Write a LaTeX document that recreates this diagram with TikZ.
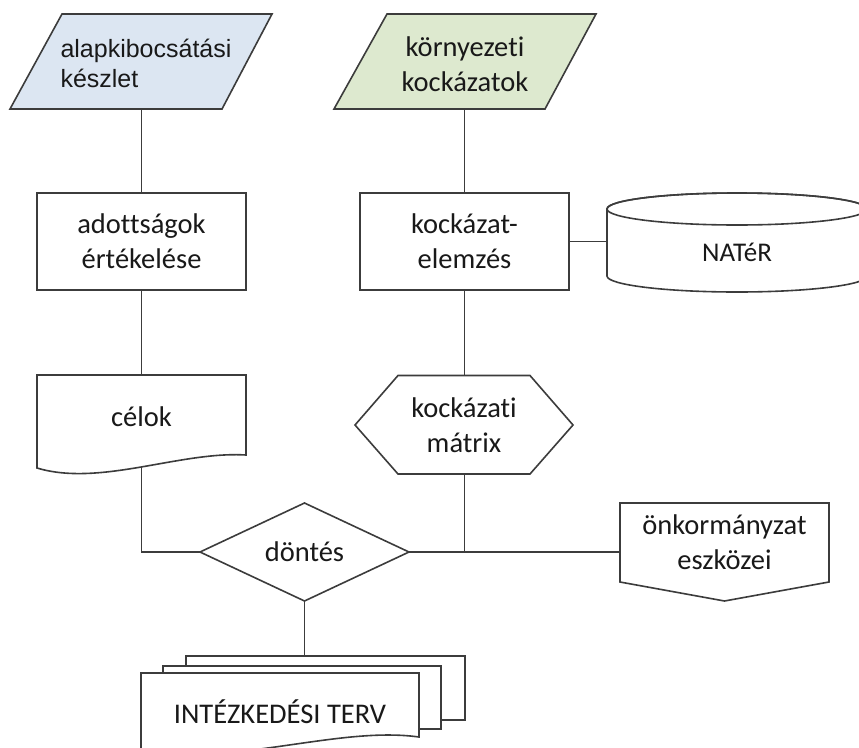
\documentclass[tikz,border=0pt]{standalone}
\usepackage{fontspec}
\setmainfont{Carlito}[Ligatures=NoCommon]
\newfontfamily\arialfont{Liberation Sans}
\usetikzlibrary{backgrounds}
\definecolor{edge}{HTML}{3C3C3C}
\definecolor{inblue}{HTML}{DCE6F2}
\definecolor{ingreen}{HTML}{DDE9CF}
\begin{document}
\begin{tikzpicture}[x=1pt,y=-1pt,
  lbl/.style={inner sep=0pt, align=center, text=black!90,
    font=\fontsize{28.5}{35}\selectfont},
  outline/.style={draw=edge, line width=1.6pt, fill=white, line join=miter},
  wire/.style={draw=edge, line width=1.6pt}]
\useasboundingbox (0,0) rectangle (859,747);

% labels (node names used by the connectors)
\node[lbl, align=left, font=\arialfont\fontsize{25}{30}\selectfont] (src) at (146,63) {alapkibocsátási\\készlet};
\node[lbl] (risk) at (465,64) {környezeti\\kockázatok};
\node[lbl] (assess) at (141.5,241.5) {adottságok\\értékelése};
\node[lbl] (analysis) at (464.5,241.5) {kockázat-\\elemzés};
\node[lbl, font=\fontsize{27}{33}\selectfont] (nater) at (737,252) {NATéR};
\node[lbl] (goals) at (141.5,417) {célok};
\node[lbl] (matrix) at (464,425) {kockázati\\mátrix};
\node[lbl] (decision) at (304.5,552) {döntés};
\node[lbl] (tools) at (724.5,542.5) {önkormányzat\\eszközei};
\node[lbl] (plan) at (280,712) {INTÉZKEDÉSI TERV};

\begin{pgfonlayer}{background}
  % connectors (hidden inside the white shapes drawn afterwards)
  \draw[wire] (assess.center) -- (assess.center |- src.center);
  \draw[wire] (assess.center) -- (goals.center);
  \draw[wire] (goals.center) |- (decision.center);
  \draw[wire] (analysis.center) -- (analysis.center |- risk.center);
  \draw[wire] (analysis.center) -- (analysis.center -| nater.center);
  \draw[wire] (analysis.center) -- (analysis.center |- decision.center);
  \draw[wire] (decision.center) -- (decision.center -| tools.center);
  \draw[wire] (decision.center) -- (decision.center |- plan.center);

  % input parallelograms
  \path[outline, fill=inblue] (62,14) -- (272,14) -- (222,109) -- (10,109) -- cycle;
  \path[outline, fill=ingreen] (387,14) -- (596,14) -- (545,109) -- (334,109) -- cycle;

  % process boxes
  \path[outline] (37,193) rectangle (246,290);
  \path[outline] (360,193) rectangle (569,290);

  % database cylinder
  \path[outline] (607,209) -- (607,276)
    arc[start angle=180, end angle=0, x radius=130, y radius=16]
    -- (867,209)
    arc[start angle=0, end angle=-180, x radius=130, y radius=16] -- cycle;
  \draw[draw=edge, line width=1.6pt] (737,209) ellipse[x radius=130, y radius=16];

  % document
  \path[outline] (37,375) -- (246,375) -- (246,455)
    .. controls (180,451) and (100,487) .. (37,468) -- cycle;

  % display hexagon
  \path[outline] (355,425) -- (398,375.5) -- (530,375.5) -- (573,425)
    -- (530,474) -- (398,474) -- cycle;

  % decision diamond
  \path[outline] (200,552) -- (304.5,503) -- (409,552) -- (304.5,601) -- cycle;

  % off-page connector
  \path[outline] (620,503) -- (829,503) -- (829,582) -- (724.5,601) -- (620,582) -- cycle;

  % multi-document
  \path[outline] (186,656) rectangle (465,720);
  \path[outline] (163,666) rectangle (441,729);
  \path[outline] (141,673) -- (419,673) -- (419,737)
    .. controls (340,726) and (240,765) .. (141,752) -- cycle;
\end{pgfonlayer}
\end{tikzpicture}
\end{document}
